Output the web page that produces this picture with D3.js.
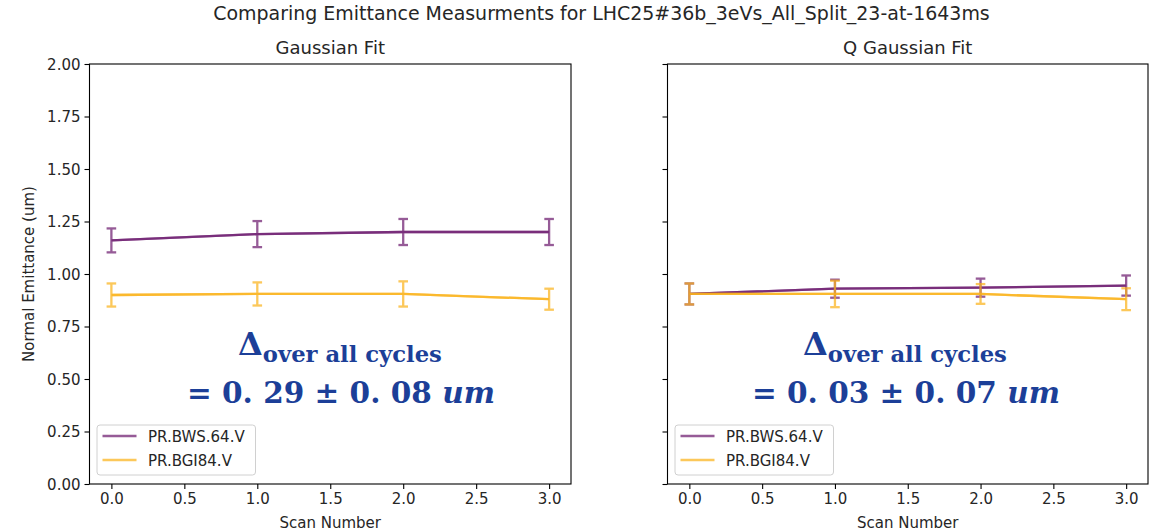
<!DOCTYPE html>
<html><head><meta charset="utf-8">
<script src="https://cdn.jsdelivr.net/npm/d3@7"></script>
<style>body{margin:0;background:#fff}svg{display:block}</style>
</head><body><svg id="c" width="1163" height="532"></svg>
<script>
// ---- data ----
const scanNumbers = [0, 1, 2, 3];
const xTicks = [0, 0.5, 1, 1.5, 2, 2.5, 3];
const yTicks = [0, 0.25, 0.5, 0.75, 1, 1.25, 1.5, 1.75, 2];
const seriesNames = ["PR.BWS.64.V", "PR.BGI84.V"];
const gaussBWS = [1.16, 1.19, 1.20, 1.20];
const gaussBWSErr = [0.057, 0.062, 0.062, 0.062];
const gaussBGI = [0.90, 0.905, 0.905, 0.88];
const gaussBGIErr = [0.055, 0.055, 0.06, 0.05];
const qgaussBWS = [0.905, 0.93, 0.935, 0.945];
const qgaussBWSErr = [0.05, 0.043, 0.043, 0.048];
const qgaussBGI = [0.905, 0.905, 0.905, 0.88];
const qgaussBGIErr = [0.05, 0.063, 0.047, 0.052];
const panelTitles = ["Gaussian Fit", "Q Gaussian Fit"];
const deltaMean = ["0. 29", "0. 03"];
const deltaErr = ["0. 08", "0. 07"];
const mainTitle = "Comparing Emittance Measurments for LHC25#36b_3eVs_All_Split_23-at-1643ms";

// ---- style ----
const colors = ["#6e1d70", "#fbb31c"];
const alpha = 0.72;
const annColor = "#1c3f98";
const sans = "'DejaVu Sans', sans-serif";
const serif = "'DejaVu Serif', serif";

const svg = d3.select("#c");
const y = d3.scaleLinear().domain([0, 2]).range([484, 64]);

function fitWidth(sel, target) {
  const w = sel.node().getBBox().width;
  const k = target / w;
  sel.selectAll("tspan").each(function () {
    const t = d3.select(this);
    if (t.attr("font-size")) t.attr("font-size", parseFloat(t.attr("font-size")) * k);
  });
  sel.attr("font-size", parseFloat(sel.attr("font-size")) * k);
}

const panels = [
  { range: [89.5, 571], title: panelTitles[0], vals: [gaussBWS, gaussBGI], errs: [gaussBWSErr, gaussBGIErr],
    labels: true, ann: { dx: 238, eqx: 187, mean: deltaMean[0], err: deltaErr[0] } },
  { range: [667.5, 1148], title: panelTitles[1], vals: [qgaussBWS, qgaussBGI], errs: [qgaussBWSErr, qgaussBGIErr],
    labels: false, ann: { dx: 803, eqx: 752, mean: deltaMean[1], err: deltaErr[1] } }
];

panels.forEach(p => {
  const x = d3.scaleLinear().domain([-0.15, 3.15]).range(p.range);
  const g = svg.append("g");
  const [x0, x1] = p.range;

  const xa = g.append("g").attr("transform", "translate(0,484)")
    .call(d3.axisBottom(x).tickValues(xTicks).tickFormat(d3.format(".1f")).tickSize(5).tickSizeOuter(0));
  const ya = g.append("g").attr("transform", `translate(${x0},0)`)
    .call(d3.axisLeft(y).tickValues(yTicks).tickFormat(p.labels ? d3.format(".2f") : () => "").tickSize(5).tickSizeOuter(0));
  [xa, ya].forEach(a => {
    a.select(".domain").remove();
    a.selectAll("line").attr("stroke", "#000").attr("stroke-width", 1.1);
    a.selectAll("text").attr("font-family", sans).attr("font-size", 15).attr("fill", "#262626");
  });
  xa.selectAll("text").attr("dy", "0.95em").attr("y", 6);
  ya.selectAll("text").attr("x", -9).attr("dy", "0.36em");

  p.vals.forEach((vals, si) => {
    const pts = scanNumbers.map((s, i) => ({ s, v: vals[i], e: p.errs[si][i] }));
    const line = d3.line().x(d => x(d.s)).y(d => y(d.v));
    const eg = g.append("g").attr("opacity", alpha);
    eg.append("path").attr("d", line(pts)).attr("fill", "none").attr("stroke", colors[si]).attr("stroke-width", 2.3);
    const bars = eg.selectAll(".eb").data(pts).enter().append("g");
    bars.append("line").attr("x1", d => x(d.s)).attr("x2", d => x(d.s))
      .attr("y1", d => y(d.v - d.e)).attr("y2", d => y(d.v + d.e))
      .attr("stroke", colors[si]).attr("stroke-width", 2.3);
    [-1, 1].forEach(sg => {
      bars.append("line").attr("x1", d => x(d.s) - 4.8).attr("x2", d => x(d.s) + 4.8)
        .attr("y1", d => y(d.v + sg * d.e)).attr("y2", d => y(d.v + sg * d.e))
        .attr("stroke", colors[si]).attr("stroke-width", 2.3);
    });
    g.append("path").attr("d", line(pts)).attr("fill", "none").attr("stroke", colors[si])
      .attr("stroke-width", 2.3).attr("opacity", alpha);
  });

  g.append("rect").attr("x", x0).attr("y", 64).attr("width", x1 - x0).attr("height", 420)
    .attr("fill", "none").attr("stroke", "#000").attr("stroke-width", 1.1);

  g.append("text").attr("x", (x0 + x1) / 2).attr("y", 54).attr("text-anchor", "middle")
    .attr("font-family", sans).attr("font-size", 18).attr("fill", "#262626").text(p.title);

  g.append("text").attr("x", (x0 + x1) / 2).attr("y", 528).attr("text-anchor", "middle")
    .attr("font-family", sans).attr("font-size", 15).attr("fill", "#262626").text("Scan Number");

  const lx = x0 + 7.5, ly = 425;
  g.append("rect").attr("x", lx).attr("y", ly).attr("width", 158.5).attr("height", 50).attr("rx", 3)
    .attr("fill", "#fff").attr("fill-opacity", 0.8).attr("stroke", "#d0d0d0").attr("stroke-width", 1);
  seriesNames.forEach((n, i) => {
    const yy = ly + 11 + i * 24;
    g.append("line").attr("x1", lx + 5.5).attr("x2", lx + 39.5).attr("y1", yy).attr("y2", yy)
      .attr("stroke", colors[i]).attr("stroke-width", 2.3).attr("opacity", alpha);
    g.append("text").attr("x", lx + 51).attr("y", yy + 5.5).attr("font-family", sans).attr("font-size", 15)
      .attr("fill", "#262626").text(n);
  });

  const a1 = g.append("text").attr("x", p.ann.dx).attr("y", 355).attr("font-family", serif)
    .attr("font-weight", "bold").attr("font-size", 31).attr("fill", annColor);
  a1.append("tspan").text("Δ");
  a1.append("tspan").attr("font-size", 22).attr("dy", 7).text("over all cycles");
  fitWidth(a1, 204);
  const a2 = g.append("text").attr("x", p.ann.eqx).attr("y", 403).attr("font-family", serif)
    .attr("font-weight", "bold").attr("font-size", 27).attr("fill", annColor);
  a2.append("tspan").text(`= ${p.ann.mean} ± ${p.ann.err} `);
  a2.append("tspan").attr("font-style", "italic").text("um");
  fitWidth(a2, 308);
});

svg.append("text").attr("transform", "translate(34,274) rotate(-90)").attr("text-anchor", "middle")
  .attr("font-family", sans).attr("font-size", 15).attr("fill", "#262626").text("Normal Emittance (um)");

const t = svg.append("text").attr("x", 601.5).attr("y", 20).attr("text-anchor", "middle")
  .attr("font-family", sans).attr("font-size", 18).attr("fill", "#262626").text(mainTitle);
fitWidth(t, 777);
</script>
</body></html>
